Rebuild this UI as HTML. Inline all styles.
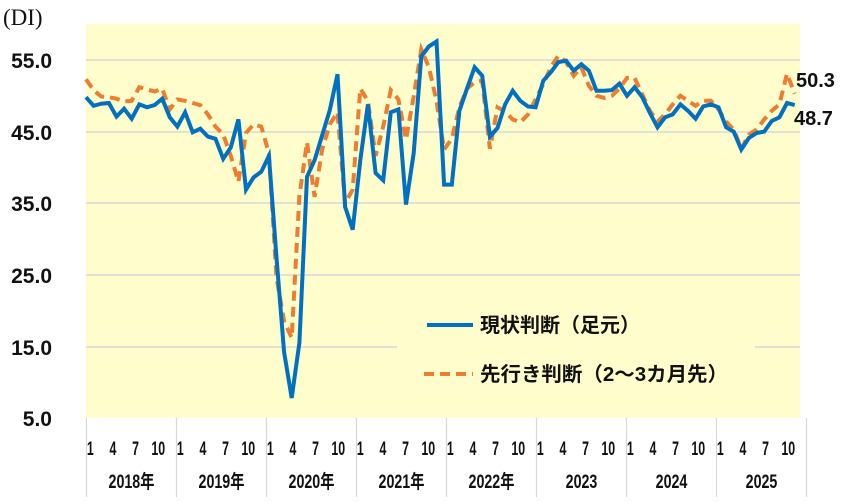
<!DOCTYPE html>
<html><head><meta charset="utf-8">
<style>
body{margin:0;background:#fff;}
svg{display:block;font-family:"Liberation Sans","Noto Sans CJK JP",sans-serif;}
</style></head><body>
<svg id="s" width="846" height="502" xmlns="http://www.w3.org/2000/svg">
<rect x="86" y="24" width="714" height="394" fill="#FFFDCC"/>
<g stroke="#d8d8d8" stroke-width="1.5">
<line x1="86" y1="60" x2="800" y2="60"/>
<line x1="86" y1="132" x2="800" y2="132"/>
<line x1="86" y1="203" x2="800" y2="203"/>
<line x1="86" y1="275" x2="800" y2="275"/>
<line x1="86" y1="347" x2="397" y2="347"/>
<line x1="755" y1="347" x2="800" y2="347"/>
</g>
<text x="3" y="25" font-family="Liberation Serif, serif" font-size="23" fill="#111">(DI)</text>
<g font-size="21" font-weight="bold" fill="#111" text-anchor="end">
<text x="52" y="68">55.0</text>
<text x="52" y="140">45.0</text>
<text x="52" y="211">35.0</text>
<text x="52" y="283">25.0</text>
<text x="52" y="355">15.0</text>
<text x="52" y="426">5.0</text>
</g>
<g id="axis"></g>
<polyline id="fc" fill="none" stroke="#ED7D31" stroke-width="4" stroke-dasharray="10,6"/>
<polyline id="cur" fill="none" stroke="#0070C0" stroke-width="4" stroke-linejoin="miter"/>
<g font-size="20" font-weight="bold" fill="#111">
<text x="796" y="87">50.3</text>
<text x="794" y="125">48.7</text>
</g>
<line x1="427" y1="325" x2="473" y2="325" stroke="#0070C0" stroke-width="4"/>
<line x1="424" y1="374" x2="473" y2="374" stroke="#ED7D31" stroke-width="4" stroke-dasharray="10,6"/>
<g font-size="20" fill="#111" font-weight="bold">
<text x="480" y="332" textLength="160" lengthAdjust="spacingAndGlyphs">現状判断（足元）</text>
<text x="480" y="381" textLength="248" lengthAdjust="spacingAndGlyphs">先行き判断（2～3カ月先）</text>
</g>
</svg>
<script>
var cur=[49.8,48.6,48.9,49.0,47.1,48.2,46.8,48.8,48.4,48.7,49.6,47.0,
45.7,47.7,44.9,45.4,44.3,44.0,41.2,42.8,46.7,36.9,38.6,39.4,
41.6,27.4,14.2,7.8,15.5,38.7,41,44.5,48,53,34.5,31.3,
41,48.8,39.2,38.2,47.7,48.1,34.8,42,55.5,56.9,57.6,37.6,
37.6,47.9,51,54.0,52.8,44.3,45.5,48.8,50.7,49.3,48.5,48.4,
52.1,53.3,54.7,54.9,53.5,54.4,53.5,50.7,50.7,50.8,51.7,50.0,
51.2,49.8,47.6,45.6,47.0,47.4,48.8,47.9,46.8,48.5,48.8,48.4,
45.6,45.0,42.5,44.1,44.8,45.0,46.5,47.0,49.0,48.7];
var fc=[52.3,50.8,49.9,49.8,49.6,49.2,49.3,51.2,50.9,50.6,51.0,48.1,
49.5,49.3,49.0,48.7,47.4,45.7,44.6,41.6,38.0,44.8,46.0,45.7,
42.0,24.6,18.5,16.2,36.0,43.5,35.9,42.5,46,47.7,35,36.9,
51,49.3,41.6,45.7,50.8,49.5,43.9,49.9,56.5,54.0,49.3,42.5,
44,48.4,51,51.9,52.1,42.6,48.4,47.8,46.7,46.3,47.4,49.5,
51.6,54,55.6,54.7,52.8,54,51.4,50.0,49.7,50,51,52.5,
52.5,50.2,47.9,46.4,47.4,48.8,50,49.3,48.6,49.3,49.3,48.1,
46.4,45.3,42.6,44.6,45.3,46.7,47.9,48.8,53.1,50.3];
function X(i){return 86+7.62*i;}
function Y(v){return 418-(v-5)*7.16;}
function pts(a){return a.map(function(v,i){return X(i).toFixed(1)+","+Y(v).toFixed(1);}).join(" ");}
document.getElementById("cur").setAttribute("points",pts(cur));
document.getElementById("fc").setAttribute("points",pts(fc));
var g=document.getElementById("axis"),h="";
var yrs=["2018年","2019年","2020年","2021年","2022年","2023","2024","2025"];
var W=90.0;
for(var k=0;k<=8;k++){var bx=86.5+W*k;h+='<line x1="'+bx+'" y1="418" x2="'+bx+'" y2="497" stroke="#d8d8d8" stroke-width="1.2"/>';}
for(var k=0;k<8;k++){var bx=86.5+W*k;
[1,4,7,10].forEach(function(m){var cx=bx+3.8+7.55*(m-1);h+='<text x="0" y="0" text-anchor="middle" font-size="19" font-weight="bold" fill="#111" transform="translate('+cx+',455) scale(0.65,1)">'+m+'</text>';});
h+='<text x="0" y="0" text-anchor="middle" font-size="19" font-weight="bold" fill="#111" transform="translate('+(bx+45)+',488) scale(0.75,1)">'+yrs[k]+'</text>';}
g.innerHTML=h;
</script>
</body></html>
